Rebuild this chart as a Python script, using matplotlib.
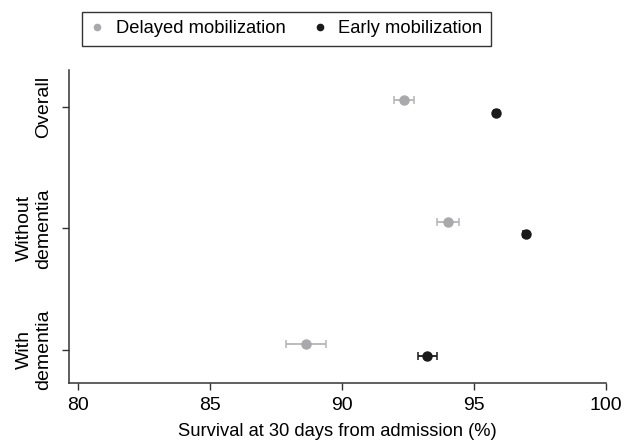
import numpy as np
import matplotlib.pyplot as plt

plt.rcParams['font.family'] = ['Liberation Sans', 'DejaVu Sans']

### Data
groups = ["Overall", "Without\ndementia", "With\ndementia"]
ypos = np.array([3, 2, 1])

delayed = np.array([92.35, 94.0, 88.65])
delayed_lo = np.array([91.98, 93.58, 87.89])
delayed_hi = np.array([92.74, 94.43, 89.38])

early = np.array([95.85, 96.96, 93.23])
early_lo = np.array([95.75, 96.86, 92.88])
early_hi = np.array([95.95, 97.06, 93.61])

xticks = [80, 85, 90, 95, 100]

### Figure
fig = plt.figure(figsize=(6.25, 4.46), dpi=100)
ax = fig.add_axes([0.1104, 0.1406, 0.859, 0.7024])

grey = "#a9a9ab"
dark = "#1a1a1a"

ax.errorbar(delayed, ypos + 0.05,
            xerr=[delayed - delayed_lo, delayed_hi - delayed],
            fmt='o', color=grey, ecolor="#b5b5b7", elinewidth=1.3,
            capsize=3, capthick=1.1, markersize=6.5, label="Delayed mobilization")
ax.errorbar(early, ypos - 0.05,
            xerr=[early - early_lo, early_hi - early],
            fmt='o', color=dark, ecolor=dark, elinewidth=1.3,
            capsize=3, capthick=1.1, markersize=6.5, label="Early mobilization")

### Decorate
ax.set_xlim(79.65, 100.0)
ax.set_ylim(0.726, 3.30)
ax.set_xticks(xticks)
ax.set_yticks(ypos)
ax.set_yticklabels(groups, rotation=90, va='center', ha='right', multialignment='center')
ax.tick_params(axis='y', pad=7, labelsize=14)
ax.tick_params(axis='x', labelsize=14, pad=5)
ax.tick_params(direction='out', length=5, width=1, color="#333333")
ax.set_xlabel("Survival at 30 days from admission (%)", fontsize=13.2, labelpad=6)
for s in ['top', 'right']:
    ax.spines[s].set_visible(False)
for s in ['left', 'bottom']:
    ax.spines[s].set_color("#333333")
    ax.spines[s].set_linewidth(1.1)

handles = [plt.Line2D([], [], marker='o', ls='', color=grey, markersize=4.5),
           plt.Line2D([], [], marker='o', ls='', color=dark, markersize=4.5)]
leg = fig.legend(handles, ["Delayed mobilization", "Early mobilization"],
                 loc='center', bbox_to_anchor=(0.458, 0.935), ncol=2,
                 fontsize=13.2, frameon=True, fancybox=False, edgecolor='black',
                 handlelength=0.8, handletextpad=0.6, columnspacing=1.5,
                 borderpad=0.45)
leg.get_frame().set_linewidth(1.0)

fig.savefig("out.png", dpi=100)
